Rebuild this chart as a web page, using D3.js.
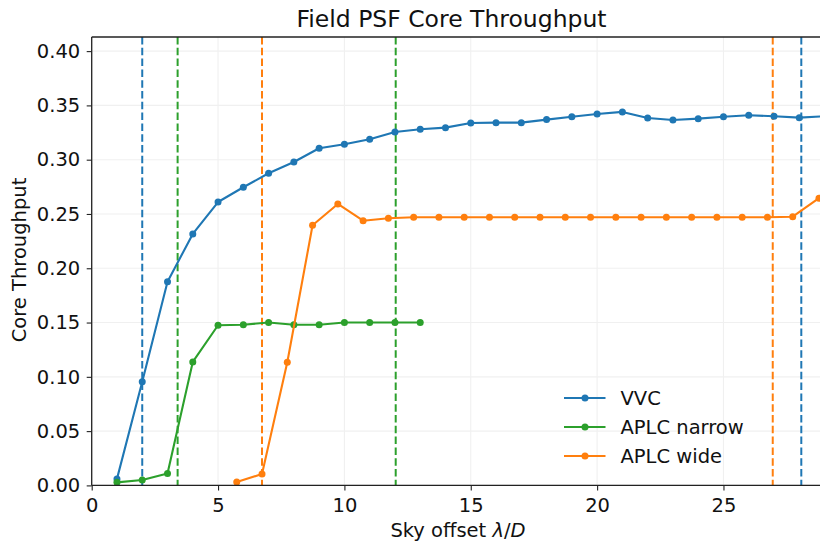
<!DOCTYPE html>
<html>
<head>
<meta charset="utf-8">
<script src="https://cdn.jsdelivr.net/npm/d3@7"></script>
<style>
  body { margin: 0; background: #fff; }
  text { font-family: "DejaVu Sans", sans-serif; }
</style>
</head>
<body>
<div id="chart"></div>
<script>
const vvcX = [1, 2, 3, 4, 5, 6, 7, 8, 9, 10, 11, 12, 13, 14, 15, 16, 17, 18, 19, 20, 21, 22, 23, 24, 25, 26, 27, 28, 29];
const vvcY = [0.006, 0.0955, 0.1876, 0.2316, 0.261, 0.2746, 0.2875, 0.2979, 0.3105, 0.3142, 0.3188, 0.3255, 0.328, 0.3295, 0.3338, 0.3341, 0.3341, 0.3369, 0.3396, 0.3421, 0.344, 0.3384, 0.3366, 0.3378, 0.3396, 0.3409, 0.34, 0.3387, 0.34];

const narrowX = [1, 2, 3, 4, 5, 6, 7, 8, 9, 10, 11, 12, 13];
const narrowY = [0.0028, 0.005, 0.011, 0.1137, 0.1475, 0.148, 0.15, 0.148, 0.148, 0.150, 0.150, 0.150, 0.150];

const wideX = [5.74, 6.74, 7.74, 8.74, 9.74, 10.74, 11.74, 12.74, 13.74, 14.74, 15.74, 16.74, 17.74, 18.74, 19.74, 20.74, 21.74, 22.74, 23.74, 24.74, 25.74, 26.74, 27.74, 28.78];
const wideY = [0.0031, 0.0105, 0.1134, 0.2396, 0.2592, 0.2438, 0.246, 0.247, 0.247, 0.247, 0.247, 0.247, 0.247, 0.247, 0.247, 0.247, 0.247, 0.247, 0.247, 0.247, 0.247, 0.247, 0.2475, 0.2645];

// inner / outer working angle markers
const vvcEdges = [2.0, 28.08];
const narrowEdges = [3.4, 12.03];
const wideEdges = [6.74, 26.95];

const xTicks = [0, 5, 10, 15, 20, 25];
const yTicks = [0, 0.05, 0.1, 0.15, 0.2, 0.25, 0.3, 0.35, 0.4];

const series = [
  { name: 'VVC', color: '#1f77b4', x: vvcX, y: vvcY, edges: vvcEdges },
  { name: 'APLC narrow', color: '#2ca02c', x: narrowX, y: narrowY, edges: narrowEdges },
  { name: 'APLC wide', color: '#ff7f0e', x: wideX, y: wideY, edges: wideEdges }
];

const width = 820;
const height = 541;
const margin = { top: 37, right: 0, bottom: 55.6, left: 91.7 };
const fontSize = 19.5;

const svg = d3.select('#chart').append('svg')
  .attr('width', width)
  .attr('height', height);

const scaleX = d3.scaleLinear()
  .domain([0, 28.82])
  .range([margin.left, width - margin.right]);

const scaleY = d3.scaleLinear()
  .domain([0, 0.413])
  .range([height - margin.bottom, margin.top]);

svg.append('defs').append('clipPath').attr('id', 'plotclip')
  .append('rect')
  .attr('x', margin.left).attr('y', margin.top)
  .attr('width', width - margin.left - margin.right)
  .attr('height', height - margin.top - margin.bottom);

// grid
const grid = svg.append('g').attr('class', 'grid');
grid.selectAll('.gx').data(xTicks).enter().append('line')
  .attr('x1', d => scaleX(d)).attr('x2', d => scaleX(d))
  .attr('y1', margin.top).attr('y2', height - margin.bottom)
  .attr('stroke', '#f0f0f0').attr('stroke-width', 1.1);
grid.selectAll('.gy').data(yTicks).enter().append('line')
  .attr('x1', margin.left).attr('x2', width - margin.right)
  .attr('y1', d => scaleY(d)).attr('y2', d => scaleY(d))
  .attr('stroke', '#f0f0f0').attr('stroke-width', 1.1);

const plot = svg.append('g').attr('clip-path', 'url(#plotclip)');

// dashed vertical lines
series.forEach(s => {
  plot.selectAll(null).data(s.edges).enter().append('line')
    .attr('x1', d => scaleX(d)).attr('x2', d => scaleX(d))
    .attr('y1', margin.top).attr('y2', height - margin.bottom)
    .attr('stroke', s.color)
    .attr('stroke-width', 2)
    .attr('stroke-dasharray', '7.5,3.3');
});

const line = d3.line()
  .x(d => scaleX(d[0]))
  .y(d => scaleY(d[1]));

series.forEach(s => {
  const pts = s.x.map((v, i) => [v, s.y[i]]);
  plot.append('path')
    .datum(pts)
    .attr('d', line)
    .attr('fill', 'none')
    .attr('stroke', s.color)
    .attr('stroke-width', 2.1)
    .attr('stroke-linejoin', 'round');
  plot.selectAll(null).data(pts).enter().append('circle')
    .attr('cx', d => scaleX(d[0]))
    .attr('cy', d => scaleY(d[1]))
    .attr('r', 3.5)
    .attr('fill', s.color);
});

// axes
const xAxis = d3.axisBottom(scaleX).tickValues(xTicks).tickFormat(d3.format('d')).tickSize(5).tickPadding(7.5);
const groupAxisX = svg.append('g')
  .attr('transform', `translate(0, ${height - margin.bottom})`)
  .call(xAxis);

const yAxis = d3.axisLeft(scaleY).tickValues(yTicks).tickFormat(d3.format('.2f')).tickSize(5).tickPadding(6.5);
const groupAxisY = svg.append('g')
  .attr('transform', `translate(${margin.left}, 0)`)
  .call(yAxis);

[groupAxisX, groupAxisY].forEach(g => {
  g.select('.domain').remove();
  g.selectAll('.tick line').attr('stroke', '#222').attr('stroke-width', 1.1);
  g.selectAll('.tick text').attr('font-size', fontSize).attr('fill', '#111')
    .style('font-family', '"DejaVu Sans", sans-serif');
});

// spines: left, bottom, top
const spine = svg.append('g').attr('stroke', '#222').attr('stroke-width', 1.3);
spine.append('line').attr('x1', margin.left).attr('x2', margin.left)
  .attr('y1', margin.top).attr('y2', height - margin.bottom);
spine.append('line').attr('x1', margin.left).attr('x2', width)
  .attr('y1', height - margin.bottom).attr('y2', height - margin.bottom);
spine.append('line').attr('x1', margin.left).attr('x2', width)
  .attr('y1', margin.top).attr('y2', margin.top);

// title and labels
svg.append('text')
  .attr('x', 451.5)
  .attr('y', 27)
  .attr('text-anchor', 'middle')
  .attr('font-size', 23.5)
  .attr('fill', '#111')
  .text('Field PSF Core Throughput');

const xlabel = svg.append('text')
  .attr('x', 458)
  .attr('y', 536.5)
  .attr('text-anchor', 'middle')
  .attr('font-size', fontSize)
  .attr('fill', '#111');
xlabel.append('tspan').text('Sky offset ');
xlabel.append('tspan').attr('font-style', 'italic').text('λ');
xlabel.append('tspan').text('/');
xlabel.append('tspan').attr('font-style', 'italic').text('D');

svg.append('text')
  .attr('transform', 'translate(25.5, 260) rotate(-90)')
  .attr('text-anchor', 'middle')
  .attr('font-size', fontSize)
  .attr('fill', '#111')
  .text('Core Throughput');

// legend
const legend = svg.append('g').attr('transform', 'translate(564, 398)');
series.forEach((s, i) => {
  const row = legend.append('g').attr('transform', `translate(0, ${i * 29})`);
  row.append('line').attr('x1', 0).attr('x2', 41.5).attr('y1', 0).attr('y2', 0)
    .attr('stroke', s.color).attr('stroke-width', 2.1);
  row.append('circle').attr('cx', 21).attr('cy', 0).attr('r', 3.5).attr('fill', s.color);
  row.append('text').attr('x', 56.5).attr('y', 7)
    .attr('font-size', fontSize).attr('fill', '#111')
    .text(s.name);
});
</script>
</body>
</html>
